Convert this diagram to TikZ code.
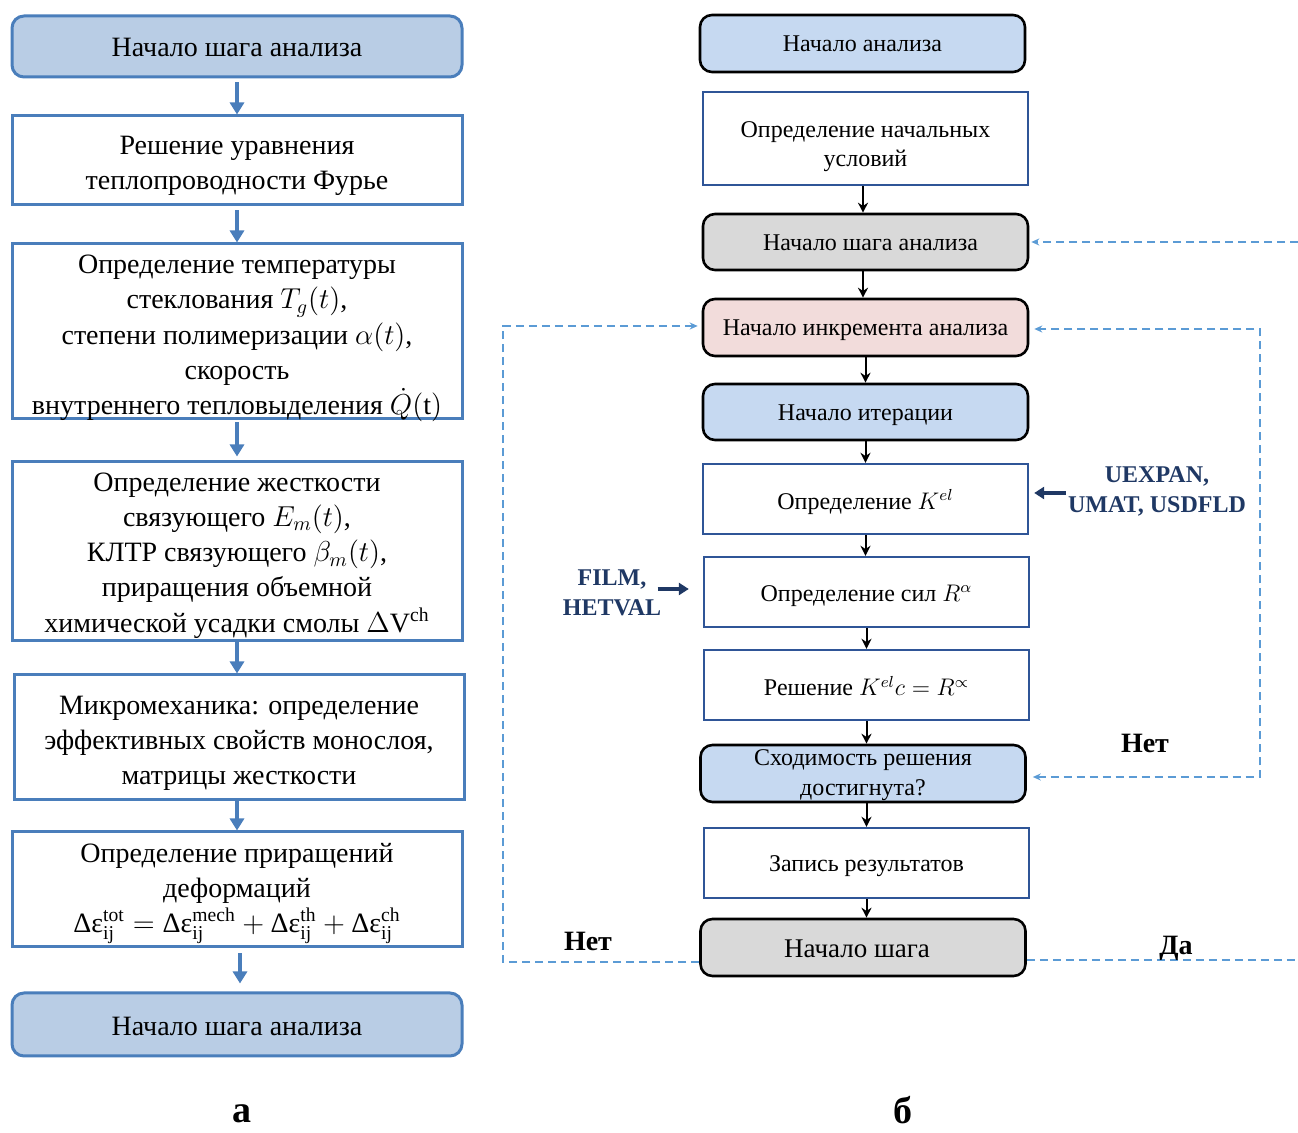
\documentclass[tikz,border=0pt]{standalone}
\usepackage{fontspec}
\setmainfont{Liberation Serif}
\usepackage{amsmath}
\usetikzlibrary{arrows.meta}
\definecolor{lb}{HTML}{4A7EBB}
\definecolor{lbfill}{HTML}{B9CDE5}
\definecolor{rbfill}{HTML}{C6D9F1}
\definecolor{rgray}{HTML}{D9D9D9}
\definecolor{rpink}{HTML}{F2DCDB}
\definecolor{rb}{HTML}{2F5597}
\definecolor{dcol}{HTML}{5B9BD5}
\definecolor{navy}{HTML}{1F3864}
\newcommand{\mydeps}{\mbox{Δε}}
\begin{document}
\begin{tikzpicture}[x=0.5pt,y=-0.5pt,
  lround/.style={draw=lb, line width=1.5pt, fill=lbfill, rounded corners=6pt, minimum width=225pt, inner sep=0pt},
  lrect/.style={draw=lb, line width=1.5pt, fill=white, minimum width=225pt, inner sep=0pt},
  ltxt/.style={font=\fontsize{14}{17.6}\selectfont, align=center, inner sep=0pt},
  larrow/.style={draw=lb, line width=2pt, -{Triangle[length=6pt,width=7pt]}},
  rround/.style={draw=black, line width=1.3pt, rounded corners=6pt, minimum width=162.5pt, inner sep=0pt},
  rrect/.style={draw=rb, line width=1.2pt, fill=white, minimum width=162.5pt, inner sep=0pt},
  rtxt/.style={font=\fontsize{12}{14.8}\selectfont, align=center, inner sep=0pt},
  rarrow/.style={draw=black, line width=1pt, -{Stealth[length=5pt,width=5pt]}},
  dl/.style={draw=dcol, line width=0.7pt, dash pattern=on 4pt off 2.5pt},
  dtip/.style={-{Stealth[length=4pt,width=3.5pt]}},
  narrow/.style={draw=navy, line width=2pt, -{Triangle[length=5pt,width=6pt]}},
  lab/.style={font=\fontsize{12}{15}\selectfont\bfseries, text=navy, align=center, inner sep=0pt},
  yn/.style={font=\fontsize{14}{16}\selectfont\bfseries, inner sep=0pt},
  figcap/.style={font=\fontsize{19}{22}\selectfont\bfseries, inner sep=0pt}
]
\useasboundingbox (0,0) rectangle (1298,1133);

% ---------- left chart ----------
\node[lround, minimum height=30.5pt] (L1) at (237,46.5) {};
\node[ltxt] (L1t) at ([yshift=-0.5pt]L1.center) {Начало шага анализа};
\node[lrect, minimum height=44.5pt] (L2) at (237,160.5) {};
\node[ltxt] (L2t) at ([yshift=-2.5pt]L2.center) {Решение уравнения\\теплопроводности Фурье};
\node[lrect, minimum height=87.5pt] (L3) at (237,331.5) {};
\node[ltxt] (L3t) at ([yshift=-3.5pt]L3.center) {Определение температуры\\стеклования $T_g(t)$,\\степени полимеризации $\alpha(t)$,\\скорость\\внутреннего тепловыделения $\dot{Q}(\mathrm{t})$};
\node[lrect, minimum height=89.5pt] (L4) at (237,551.5) {};
\node[ltxt] (L4t) at ([yshift=-2pt]L4.center) {Определение жесткости\\связующего $E_m(t)$,\\КЛТР связующего $\beta_m(t)$,\\приращения объемной\\химической усадки смолы $\Delta\mathrm{V}^{\mathrm{ch}}$};
\node[lrect, minimum height=62.5pt] (L5) at (239,737.5) {};
\node[ltxt] (L5t) at ([yshift=-3pt]L5.center) {Микромеханика: определение\\эффективных свойств монослоя,\\матрицы жесткости};
\node[lrect, minimum height=57.5pt] (L6) at (237,889.5) {};
\node[ltxt] (L6t) at ([yshift=-2pt]L6.center) {Определение приращений\\деформаций\\$\mydeps^{\mathrm{tot}}_{\mathrm{ij}} = \mydeps^{\mathrm{mech}}_{\mathrm{ij}} + \mydeps^{\mathrm{th}}_{\mathrm{ij}} + \mydeps^{\mathrm{ch}}_{\mathrm{ij}}$};
\node[lround, minimum height=31.5pt] (L7) at (237,1024.5) {};
\node[ltxt] (L7t) at ([yshift=-1pt]L7.center) {Начало шага анализа};

\draw[larrow, shorten <=2pt] (L1.south) -- (L2.north);
\draw[larrow, shorten <=2pt] (L2.south) -- (L3.north);
\draw[larrow, shorten <=1pt, shorten >=2pt] (L3.south) -- (L4.north);
\draw[larrow] (L4.south) -- (L5.north -| L4.south);
\draw[larrow] (L5.south -| L6.north) -- (L6.north);
\draw[larrow, shorten <=2.5pt, shorten >=4pt] ([xshift=1.5pt]L6.south) -- ([xshift=1.5pt]L7.north);

\node[figcap] (ca) at (242,1114) {а};

% ---------- right chart ----------
\node[rround, fill=rbfill, minimum height=28.5pt] (R1) at (862.5,43.5) {};
\node[rtxt] (R1t) at (R1.center) {Начало анализа};
\node[rrect, minimum height=46.5pt] (R2) at (865.5,138.5) {};
\node[rtxt] (R2t) at ([yshift=-4pt]R2.center) {Определение начальных\\условий};
\node[rround, fill=rgray, minimum height=28pt] (R3) at (865.5,242) {};
\node[rtxt] (R3t) at ([xshift=2.5pt,yshift=-0.5pt]R3.center) {Начало шага анализа};
\node[rround, fill=rpink, minimum height=28.5pt] (R4) at (865.5,327.5) {};
\node[rtxt] (R4t) at ([yshift=-1.5pt]R4.center) {Начало инкремента анализа};
\node[rround, fill=rbfill, minimum height=28pt] (R5) at (865.5,412) {};
\node[rtxt] (R5t) at ([yshift=-1.5pt]R5.center) {Начало итерации};
\node[rrect, minimum height=35pt] (R6) at (865.5,499) {};
\node[rtxt] (R6t) at ([yshift=-1.5pt]R6.center) {Определение $K^{el}$};
\node[rrect, minimum height=35pt] (R7) at (866.5,592) {};
\node[rtxt] (R7t) at ([yshift=-2pt]R7.center) {Определение сил $R^{\alpha}$};
\node[rrect, minimum height=35pt] (R8) at (866.5,685) {};
\node[rtxt] (R8t) at ([yshift=-0.5pt]R8.center) {Решение $K^{el}c = R^{\propto}$};
\node[rround, fill=rbfill, minimum height=28.5pt] (R9) at (863,773.5) {};
\node[rtxt] (R9t) at ([yshift=-0.7pt]R9.center) {Сходимость решения\\достигнута?};
\node[rrect, minimum height=35pt] (R10) at (866.5,863) {};
\node[rtxt] (R10t) at ([yshift=-1.5pt]R10.center) {Запись результатов};
\node[rround, fill=rgray, minimum height=28.5pt] (R11) at (863,947.5) {};
\node[rtxt, font=\fontsize{13.5}{15}\selectfont] (R11t) at ([xshift=-3pt,yshift=-0.5pt]R11.center) {Начало шага};

\draw[rarrow] (R2.south -| 863,0) -- (R3.north -| 863,0);
\draw[rarrow] (R3.south -| 863,0) -- (R4.north -| 863,0);
\draw[rarrow] (R4.south) -- (R5.north);
\draw[rarrow] (R5.south) -- (R6.north);
\draw[rarrow] (R6.south) -- (R7.north -| R6.south);
\draw[rarrow] (R7.south) -- (R8.north);
\draw[rarrow] (R8.south) -- (R9.north -| R8.south);
\draw[rarrow] (R9.south -| R10.north) -- (R10.north);
\draw[rarrow] (R10.south) -- (R11.north -| R10.south);

% side labels
\node[lab] (uex) at (1157,491) {UEXPAN,\\UMAT, USDFLD};
\node[lab] (film) at (612,593) {FILM,\\HETVAL};
\draw[narrow, shorten <=1pt, shorten >=2.5pt] ([yshift=-1pt]uex.west) -- ([yshift=-1pt]uex.west -| R6.east);
\draw[narrow, shorten <=-2pt, shorten >=7pt] ([yshift=2pt]film.east) -- ([yshift=2pt]film.east -| R7.west);

% dashed loops
\coordinate (a1) at (503,962);
\coordinate (a2) at (503,326);
\draw[dl, dtip, shorten >=2pt] ([yshift=-7.25pt]R11.west) -- (a1) -- (a2) -- ([yshift=0.75pt]R4.west);
\coordinate (b1) at (1260,777);
\coordinate (b2) at (1260,329);
\draw[dl, {Stealth[length=4pt,width=3.5pt]}-{Stealth[length=4pt,width=3.5pt]}, shorten <=3pt, shorten >=2.5pt] ([yshift=-1.75pt]R9.east) -- (b1) -- (b2) -- ([yshift=-0.75pt]R4.east);
\begin{scope}
\clip (0,0) rectangle (1298,1133);
\coordinate (c1) at (1330,960);
\coordinate (c2) at (1330,242);
\draw[dl, dtip, shorten >=1pt] ([yshift=-6.25pt]R11.east) -- (c1) -- (c2) -- (R3.east);
\end{scope}

\node[yn] (n1) at (1145,743) {Нет};
\node[yn] (n2) at (588,941) {Нет};
\node[yn] (d1) at (1176,948) {Да};

\node[figcap] (cb) at (903,1110) {б};
\end{tikzpicture}
\end{document}
